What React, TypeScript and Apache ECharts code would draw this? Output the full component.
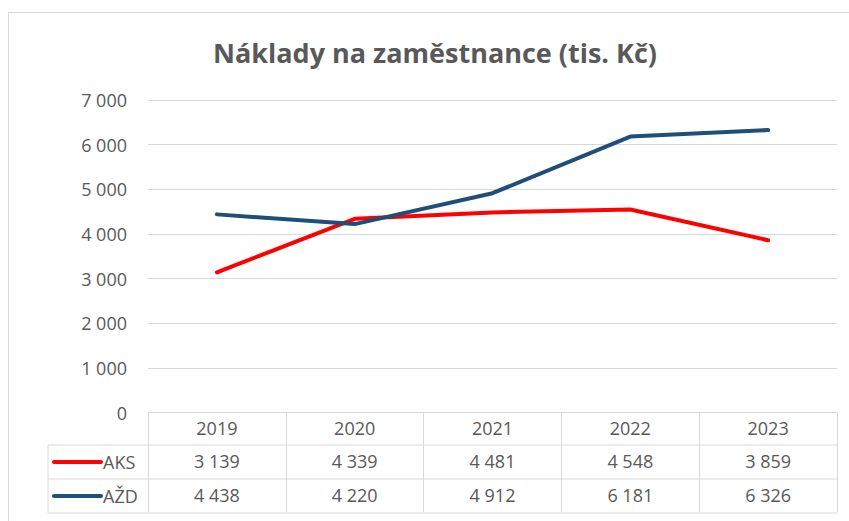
import React, { useEffect, useRef } from "react";
import * as echarts from "echarts";

const years = ["2019", "2020", "2021", "2022", "2023"];
const aks = [3139, 4339, 4481, 4548, 3859];
const azd = [4438, 4220, 4912, 6181, 6326];
const seriesNames = ["AKS", "AŽD"];
const colors = ["#FF0000", "#1F4E79"];
const titleText = "Náklady na zaměstnance (tis. Kč)";

const fmt = (v: number) => String(v).replace(/\B(?=(\d{3})+(?!\d))/g, " ");

const FONT = "Open Sans";
const TXT = "#595959";
const GRIDC = "#D9D9D9";

export default function App() {
  const ref = useRef<HTMLDivElement>(null);
  useEffect(() => {
    if (!ref.current) return;
    const chart = echarts.init(ref.current, undefined, { renderer: "svg" });
    const left = 148, right = 837, top = 100, zeroY = 412.5;
    const rowLines = [445, 479, 513];
    const legendRows = [462, 496];
    const tableLeft = 48;
    const lbl = { color: TXT, fontSize: 18, fontFamily: FONT };
    chart.setOption({
      animation: false,
      backgroundColor: "#fff",
      title: {
        text: titleText,
        left: 430,
        top: 34,
        textAlign: "center",
        textStyle: { color: TXT, fontSize: 27, fontWeight: "bold", fontFamily: FONT },
      },
      grid: { left, right: 849 - right, top, bottom: 521 - zeroY, containLabel: false },
      xAxis: [
        {
          type: "category",
          data: years,
          boundaryGap: true,
          axisLine: { show: true, lineStyle: { color: GRIDC, width: 1 } },
          axisTick: { show: true, length: 100, interval: 0, lineStyle: { color: GRIDC, width: 1 } },
          axisLabel: { ...lbl, margin: 6, interval: 0 },
        },
        {
          type: "category",
          data: years,
          position: "bottom",
          offset: 33,
          axisLine: { show: false },
          axisTick: { show: false },
          axisLabel: { ...lbl, margin: 6, interval: 0, formatter: (_v: string, i: number) => fmt(aks[i]) },
        },
        {
          type: "category",
          data: years,
          position: "bottom",
          offset: 67,
          axisLine: { show: false },
          axisTick: { show: false },
          axisLabel: { ...lbl, margin: 6, interval: 0, formatter: (_v: string, i: number) => fmt(azd[i]) },
        },
      ],
      yAxis: {
        type: "value",
        min: 0,
        max: 7000,
        interval: 1000,
        axisLine: { show: false },
        axisTick: { show: false },
        splitLine: { lineStyle: { color: GRIDC, width: 1 } },
        axisLabel: { ...lbl, margin: 21, formatter: (v: number) => fmt(v) },
      },
      series: [
        {
          name: seriesNames[0],
          type: "line",
          data: aks,
          symbol: "none",
          lineStyle: { color: colors[0], width: 4, cap: "round", join: "round" },
          itemStyle: { color: colors[0] },
        },
        {
          name: seriesNames[1],
          type: "line",
          data: azd,
          symbol: "none",
          lineStyle: { color: colors[1], width: 4, cap: "round", join: "round" },
          itemStyle: { color: colors[1] },
        },
      ],
      graphic: [
        {
          type: "rect",
          shape: { x: 8.5, y: 12.5, width: 900, height: 600 },
          style: { fill: "none", stroke: GRIDC, lineWidth: 1 },
          silent: true,
        },
        ...rowLines.map((y) => ({
          type: "line",
          shape: { x1: tableLeft, y1: y, x2: right, y2: y },
          style: { stroke: GRIDC, lineWidth: 1 },
          silent: true,
        })),
        {
          type: "line",
          shape: { x1: tableLeft, y1: rowLines[0], x2: tableLeft, y2: rowLines[2] },
          style: { stroke: GRIDC, lineWidth: 1 },
          silent: true,
        },
        ...seriesNames.flatMap((n, i) => [
          {
            type: "line",
            shape: { x1: 54, y1: legendRows[i], x2: 101, y2: legendRows[i] },
            style: { stroke: colors[i], lineWidth: 4, lineCap: "round" },
            silent: true,
          },
          {
            type: "text",
            x: 103,
            y: legendRows[i],
            style: { text: n, fill: TXT, fontSize: 18, fontFamily: FONT, verticalAlign: "middle", align: "left" },
            silent: true,
          },
        ]),
      ],
    });
    return () => chart.dispose();
  }, []);
  return <div ref={ref} style={{ position: "fixed", left: 0, top: 0, width: 849, height: 521 }} />;
}
